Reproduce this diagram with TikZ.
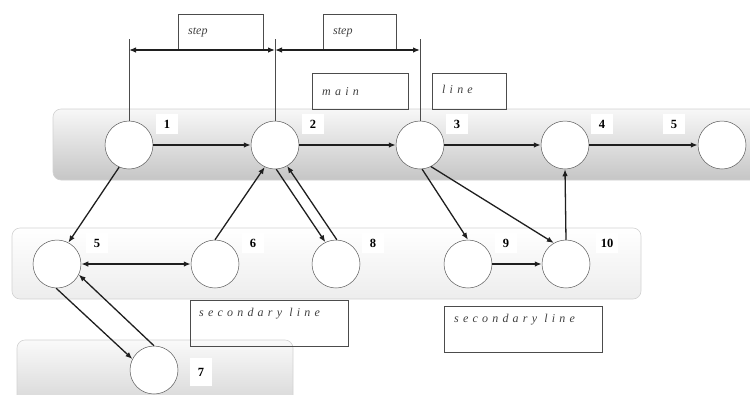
\documentclass[tikz,border=0pt]{standalone}
\usepackage{fontspec}
\setmainfont{Liberation Serif}
\newfontfamily\spacedfont[LetterSpace=35]{Liberation Serif}
\usetikzlibrary{arrows.meta}
\begin{document}
\begin{tikzpicture}[x=1pt,y=-1pt,
  band/.style={draw=gray!35, line width=0.6pt, rounded corners=8pt},
  circ/.style={circle, draw=gray!70!black, line width=0.5pt, fill=white, minimum size=48pt, inner sep=0pt},
  num/.style={fill=white, font=\fontsize{12.5}{14}\selectfont\bfseries, minimum width=22pt, minimum height=20pt, inner sep=0pt},
  arr/.style={line width=1.3pt, draw=black!88, -{Latex[length=7pt,width=5.5pt]}},
  arrboth/.style={line width=1.3pt, draw=black!88, {Latex[length=7pt,width=5.5pt]}-{Latex[length=7pt,width=5.5pt]}},
  guide/.style={line width=0.5pt, draw=gray!60!black},
  box/.style={draw=gray!60!black, line width=0.6pt, inner sep=0pt, anchor=north west},
  txt/.style={font=\fontsize{12}{14}\selectfont\itshape, inner sep=0pt, anchor=west, text=black!75},
  sptxt/.style={font=\fontsize{12}{14}\spacedfont\itshape, inner sep=0pt, anchor=west, text=black!75}
]
\useasboundingbox (0,0) rectangle (750,394);
\clip (0,0) rectangle (750,394);

% bands
\path[band, top color=gray!6, bottom color=gray!45] (53,109) rectangle (780,180);
\path[band, top color=white, bottom color=gray!14] (12,228) rectangle (641,299);
\path[band, top color=gray!4, bottom color=gray!38] (17,340) rectangle (293,420);

% main line nodes
\node[circ] (n1) at (129,145) {};
\node[circ] (n2) at (275,145) {};
\node[circ] (n3) at (420,145) {};
\node[circ] (n4) at (565,145) {};
\node[circ] (n5) at (722,145) {};
% secondary nodes
\node[circ] (s5) at (57,264) {};
\node[circ] (s6) at (215,264) {};
\node[circ] (s8) at (336,264) {};
\node[circ] (s9) at (468,264) {};
\node[circ] (s10) at (566,264) {};
\node[circ] (t7) at (154,370) {};

% number labels
\node[num] (l1) at (167,124) {1};
\node[num] (l2) at (313,124) {2};
\node[num] (l3) at (457,124) {3};
\node[num] (l4) at (602,124) {4};
\node[num] (l5) at (674,124) {5};
\node[num] (ls5) at (97,243) {5};
\node[num] (ls6) at (253,243) {6};
\node[num] (ls8) at (373,243) {8};
\node[num] (ls9) at (506,243) {9};
\node[num] (ls10) at (607,243) {10};
\node[num, minimum height=28pt] (lt7) at (201,372) {7};

% step dimension
\coordinate (v1) at (n1.north |- 0,39);
\coordinate (v2) at (n2.north |- 0,39);
\coordinate (v3) at (n3.north |- 0,39);
\coordinate (a1) at (n1.north |- 0,50);
\coordinate (a2) at (n2.north |- 0,50);
\coordinate (a3) at (n3.north |- 0,50);
\draw[guide] (v1) -- (n1.north);
\draw[guide] (v2) -- (n2.north);
\draw[guide] (v3) -- (n3.north);

\node[box, minimum width=85pt, minimum height=36pt] (b1) at (178,14) {};
\node[box, minimum width=73pt, minimum height=36pt] (b2) at (323,14) {};
\node[txt] (tb1) at ([xshift=10pt]b1.west) {step};
\node[txt] (tb2) at ([xshift=10pt]b2.west) {step};
\draw[arrboth] (a1) -- (a2);
\draw[arrboth] (a2) -- (a3);

% main / line boxes
\node[box, minimum width=96pt, minimum height=36pt] (bm) at (312,73) {};
\node[box, minimum width=74pt, minimum height=36pt] (bl) at (432,73) {};
\node[sptxt] (tm) at ([xshift=10pt]bm.west) {main};
\node[sptxt] (tl) at ([xshift=10pt,yshift=2pt]bl.west) {line};

% secondary line boxes
\node[box, minimum width=158pt, minimum height=46pt] (bs1) at (190,300) {};
\node[box, minimum width=158pt, minimum height=46pt] (bs2) at (444,306) {};
\node[sptxt] (ts1) at ([xshift=9pt,yshift=-14pt]bs1.north west) {secondary line};
\node[sptxt] (ts2) at ([xshift=10pt,yshift=-14pt]bs2.north west) {secondary line};

% connectors
\draw[arr] (n1) -- (n2);
\draw[arr] (n2) -- (n3);
\draw[arr] (n3) -- (n4);
\draw[arr] (n4) -- (n5);
\draw[arr] (n1.246) -- (s5.62);
\draw[arr] (s6.90) -- (n2.245);
\draw[arr] (n2.273) -- (s8.116);
\draw[arr] (s8.88) -- (n2.300);
\draw[arrboth] (s5) -- (s6);
\draw[arr] (s5.268) -- (t7.153);
\draw[arr] (t7.90) -- (s5.334);
\draw[arr] (n3.275) -- (s9.90);
\draw[arr] (n3.297) -- (s10.120);
\draw[arr] (s9) -- (s10);
\draw[arr] (s10.90) -- (n4.270);
\end{tikzpicture}
\end{document}
